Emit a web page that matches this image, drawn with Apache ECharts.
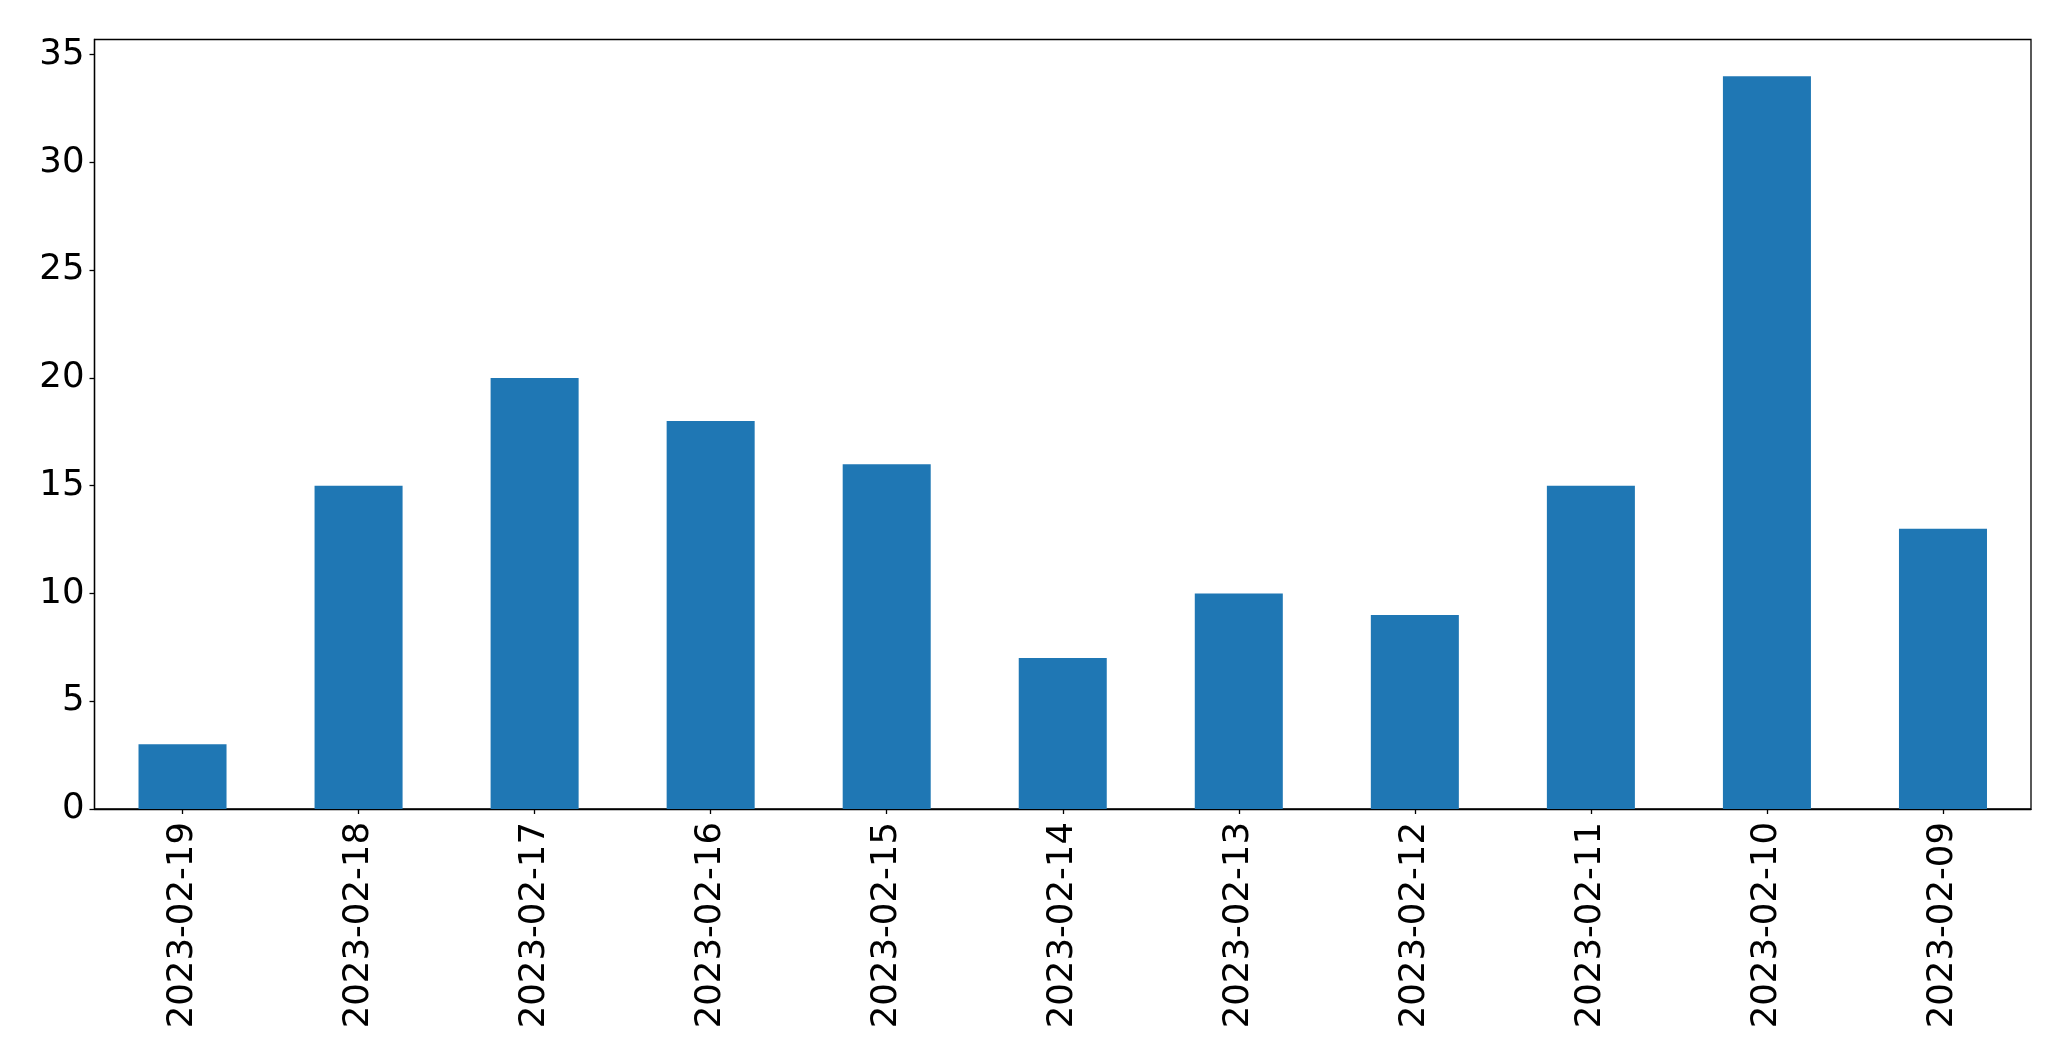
<!DOCTYPE html>
<html>
<head>
<meta charset="utf-8">
<script src="https://cdn.jsdelivr.net/npm/echarts@6/dist/echarts.min.js"></script>
<style>
html,body{margin:0;padding:0;background:#fff;}
#chart{width:2071px;height:1061px;}
</style>
</head>
<body>
<div id="chart"></div>
<script>
const categories = ['2023-02-19','2023-02-18','2023-02-17','2023-02-16','2023-02-15','2023-02-14','2023-02-13','2023-02-12','2023-02-11','2023-02-10','2023-02-09'];
const values = [3, 15, 20, 18, 16, 7, 10, 9, 15, 34, 13];
const yTicks = [0, 5, 10, 15, 20, 25, 30, 35];
const yMax = 35.7;

const chart = echarts.init(document.getElementById('chart'), null, {renderer: 'canvas'});
const font = 'DejaVu Sans';
chart.setOption({
  animation: false,
  backgroundColor: '#ffffff',
  grid: {
    left: 94.5, right: 40, top: 39.5, bottom: 252,
    containLabel: false,
    show: true, borderColor: '#000', borderWidth: 1.3, backgroundColor: 'transparent'
  },
  xAxis: {
    type: 'category',
    data: categories,
    boundaryGap: true,
    axisLine: {show: true, lineStyle: {color: '#000', width: 1.3}},
    axisTick: {show: true, alignWithLabel: true, length: 5, lineStyle: {color: '#000', width: 1.3}},
    axisLabel: {rotate: 90, margin: 13, color: '#000', fontFamily: font, fontSize: 35.5, interval: 0},
    splitLine: {show: false}
  },
  yAxis: {
    type: 'value',
    min: 0, max: yMax, interval: 5,
    axisLine: {show: true, lineStyle: {color: '#000', width: 1.3}},
    axisTick: {show: true, length: 5, customValues: yTicks, lineStyle: {color: '#000', width: 1.3}},
    axisLabel: {margin: 10, color: '#000', fontFamily: font, fontSize: 35.5, customValues: yTicks},
    splitLine: {show: false}
  },
  series: [{
    type: 'bar',
    data: values,
    barWidth: '50%',
    itemStyle: {color: '#1f77b4'}
  }]
});
</script>
</body>
</html>
